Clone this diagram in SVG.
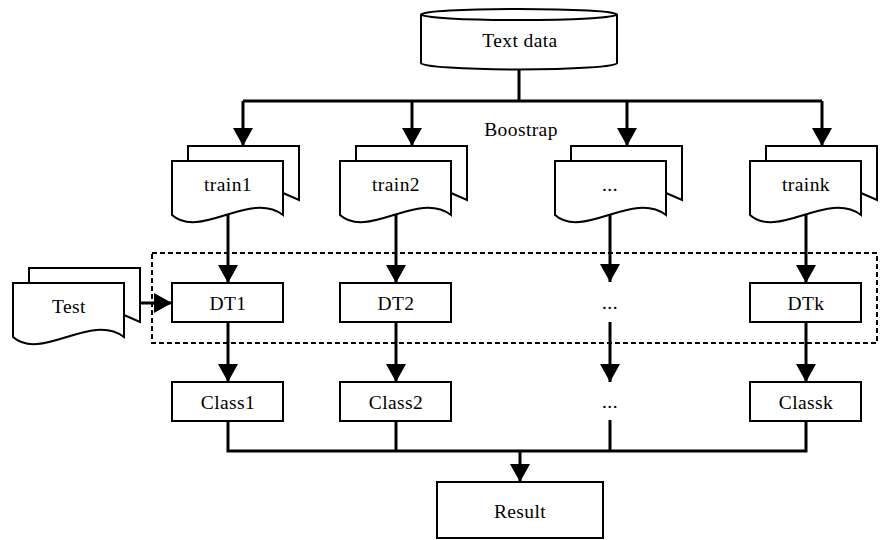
<svg xmlns="http://www.w3.org/2000/svg" width="880" height="540" viewBox="0 0 880 540">
<style>
.ln{fill:none;stroke:#000;stroke-width:3}
.bx{fill:#fff;stroke:#000;stroke-width:2}
.dash{fill:none;stroke:#000;stroke-width:2;stroke-dasharray:5 3}
text{font-family:'Liberation Serif','DejaVu Serif',serif;font-size:19.5px;letter-spacing:0.4px;fill:#000;text-anchor:middle}
</style>
<defs>
<marker id="ah" markerUnits="userSpaceOnUse" markerWidth="18" markerHeight="20" refX="18" refY="10" orient="auto">
<path d="M0,0 L18,10 L0,20 Z" fill="#000"/>
</marker>
<g id="doc">
<path class="bx" d="M16,0 V-15 H127 V39 L111,32"/>
<path class="bx" d="M0,0 H111 V54 C78,29 28,79 0,54 Z"/>
</g>
</defs>
<rect class="dash" x="152" y="253" width="725" height="90"/>
<g id="connectors">
<path class="ln" d="M519,69 V101 M243,101 H822"/>
<path class="ln" d="M243,101 V146" marker-end="url(#ah)"/>
<path class="ln" d="M412,101 V146" marker-end="url(#ah)"/>
<path class="ln" d="M627,101 V146" marker-end="url(#ah)"/>
<path class="ln" d="M822,101 V146" marker-end="url(#ah)"/>
<path class="ln" d="M228,215 V283" marker-end="url(#ah)"/>
<path class="ln" d="M396,215 V283" marker-end="url(#ah)"/>
<path class="ln" d="M610,215 V282" marker-end="url(#ah)"/>
<path class="ln" d="M806,215 V283" marker-end="url(#ah)"/>
<path class="ln" d="M139,303 H172" marker-end="url(#ah)"/>
<path class="ln" d="M228,322 V382" marker-end="url(#ah)"/>
<path class="ln" d="M396,322 V382" marker-end="url(#ah)"/>
<path class="ln" d="M610,322 V382" marker-end="url(#ah)"/>
<path class="ln" d="M806,322 V382" marker-end="url(#ah)"/>
<path class="ln" d="M228,421 V451 H806 V421 M396,421 V451 M610,420 V451"/>
<path class="ln" d="M520,451 V482" marker-end="url(#ah)"/>
</g>
<g id="textdata">
<path class="bx" d="M421,14.5 V63 A98,6.5 0 0 0 617,63 V14.5"/>
<ellipse class="bx" cx="519" cy="14.5" rx="98" ry="5.5"/>
<text x="520" y="47">Text data</text>
</g>
<text x="521" y="136">Boostrap</text>
<g id="train1"><use href="#doc" x="172" y="161"/><text x="228" y="191">train1</text></g>
<g id="train2"><use href="#doc" x="340" y="161"/><text x="396" y="191">train2</text></g>
<g id="train3"><use href="#doc" x="555" y="161"/><text x="610" y="191">...</text></g>
<g id="traink"><use href="#doc" x="750" y="161"/><text x="806" y="191">traink</text></g>
<g id="test"><use href="#doc" x="13" y="283"/><text x="69" y="313">Test</text></g>
<g id="dt1"><rect class="bx" x="172" y="283" width="111" height="39"/><text x="228" y="309.5">DT1</text></g>
<g id="dt2"><rect class="bx" x="340" y="283" width="111" height="39"/><text x="396" y="309.5">DT2</text></g>
<g id="dt3"><text x="610" y="309">...</text></g>
<g id="dtk"><rect class="bx" x="750" y="283" width="111" height="39"/><text x="806" y="309.5">DTk</text></g>
<g id="class1"><rect class="bx" x="172" y="382" width="111" height="39"/><text x="228" y="408.5">Class1</text></g>
<g id="class2"><rect class="bx" x="340" y="382" width="111" height="39"/><text x="396" y="408.5">Class2</text></g>
<g id="class3"><text x="610" y="408">...</text></g>
<g id="classk"><rect class="bx" x="750" y="382" width="111" height="39"/><text x="806" y="408.5">Classk</text></g>
<g id="result"><rect class="bx" x="437" y="482" width="166" height="56"/><text x="520" y="517.5">Result</text></g>
</svg>
